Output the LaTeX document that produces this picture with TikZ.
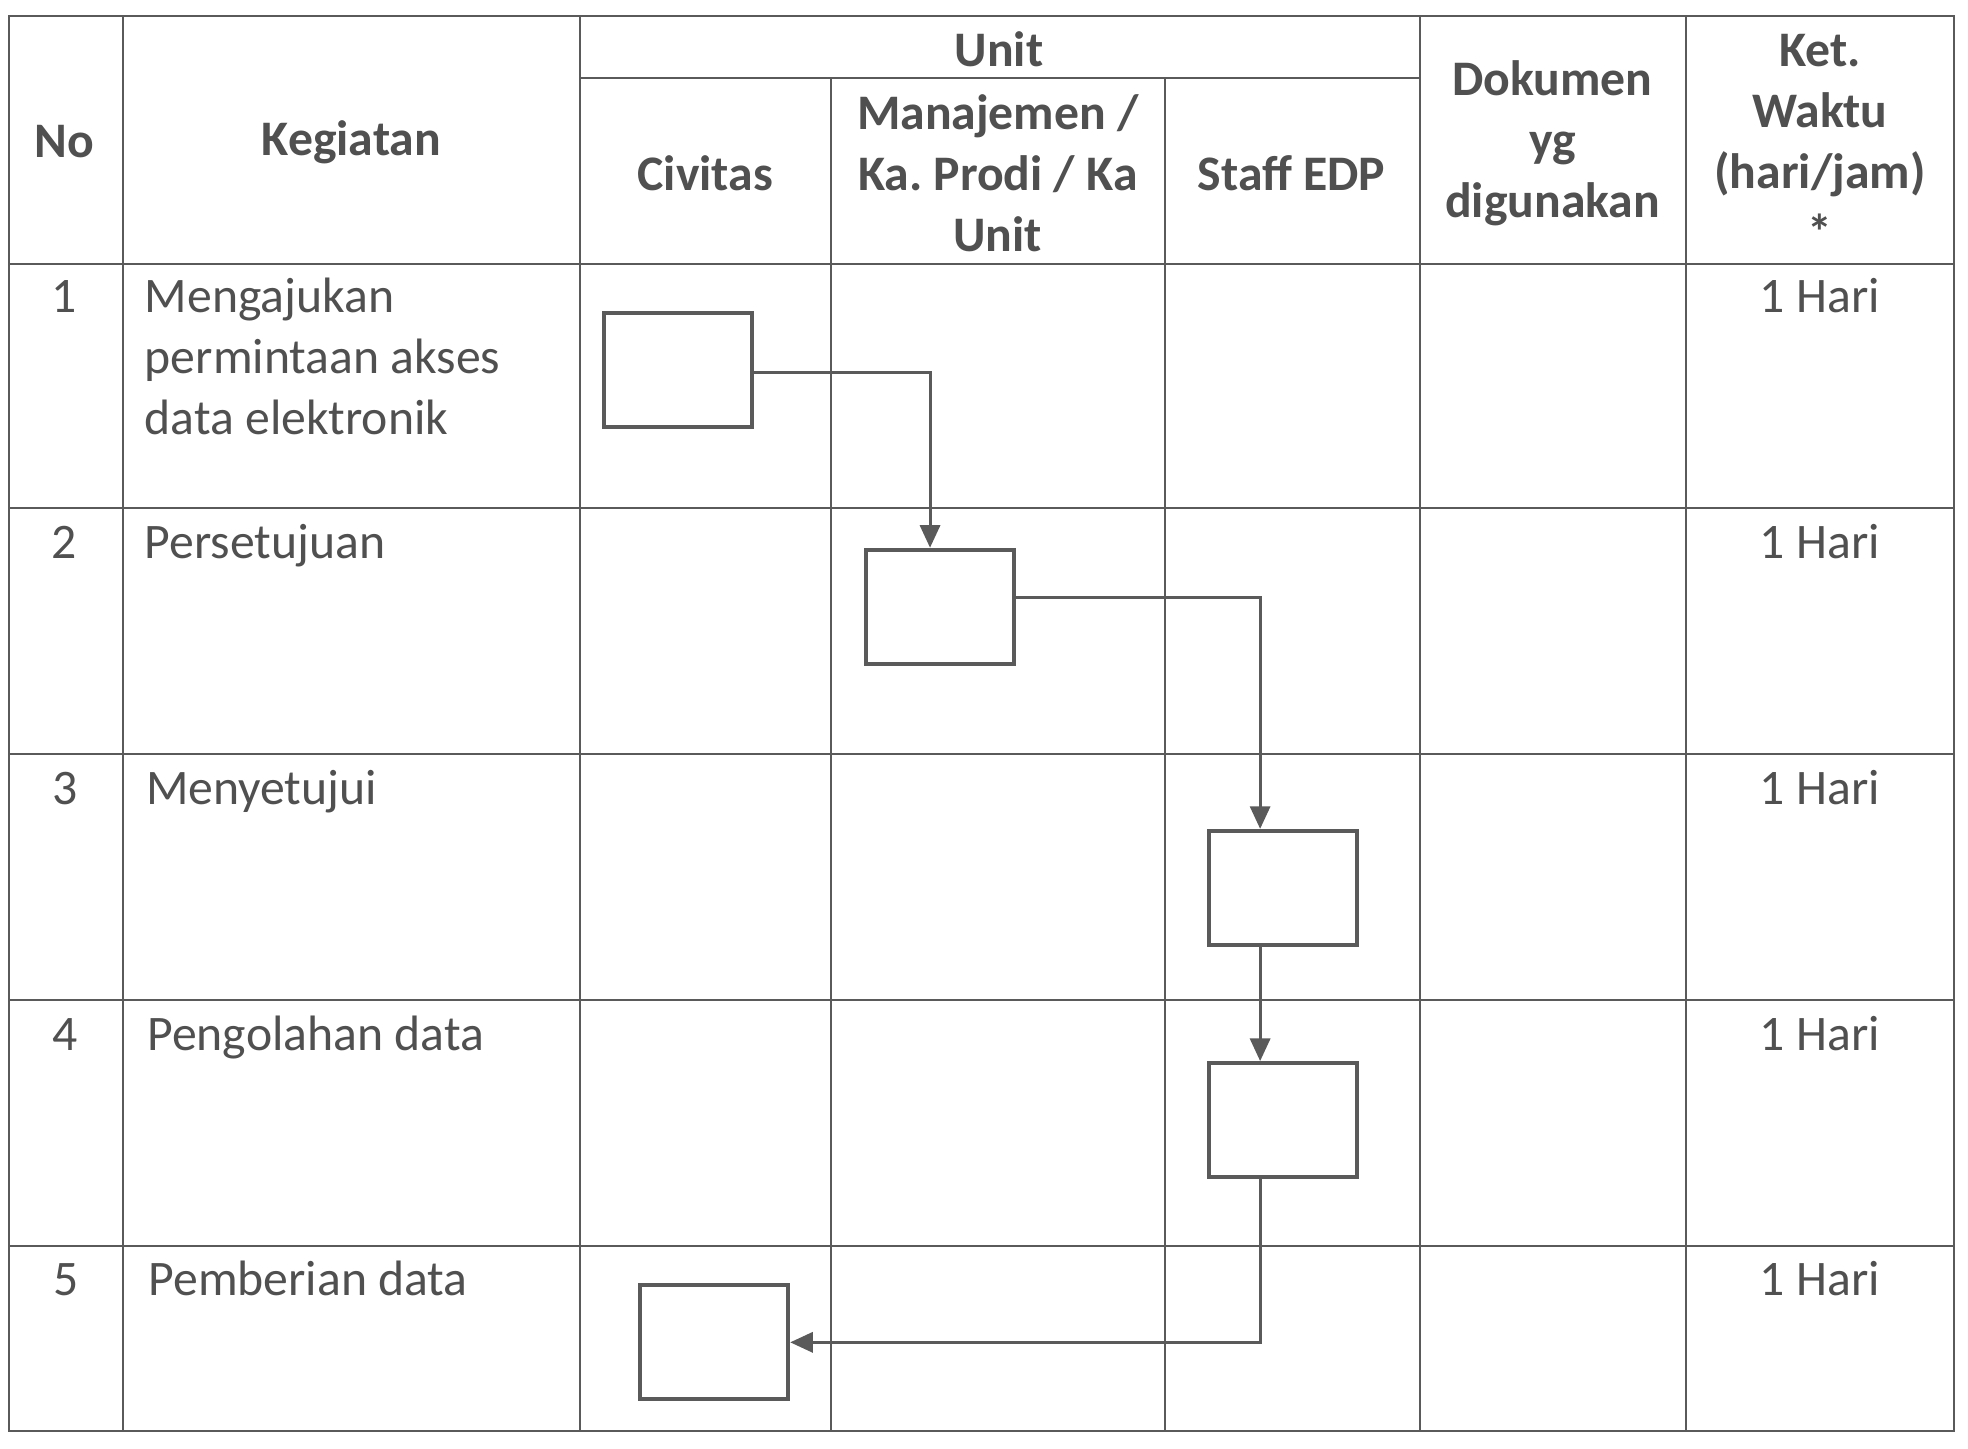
\documentclass[tikz,border=0pt]{standalone}
\usepackage{fontspec}
\setmainfont{Carlito}
\usetikzlibrary{arrows.meta}
\definecolor{ink}{HTML}{505050}
\definecolor{rule}{HTML}{5A5A5A}
\frenchspacing
\begin{document}
\begin{tikzpicture}[x=0.5pt,y=-0.5pt,
  grid/.style={draw=rule,line width=0.8pt},
  hdr/.style={font=\fontsize{19.8}{24.3}\selectfont\bfseries,text=ink,align=center,inner sep=0pt},
  txt/.style={font=\fontsize{19.8}{24.3}\selectfont,text=ink,inner sep=0pt,anchor=base west},
  num/.style={font=\fontsize{19.8}{24.3}\selectfont,text=ink,inner sep=0pt,anchor=base},
  actbox/.style={draw=rule,line width=1.6pt,minimum width=59pt,minimum height=45.5pt,inner sep=0pt},
  flow/.style={draw=rule,line width=1.2pt,-{Triangle[length=9pt,width=8pt]}}]
\path[use as bounding box,fill=white] (0,0) rectangle (1568,1154);
% table grid
\draw[grid] (7,13) rectangle (1557,1140);
\foreach \x in {98,462,1131,1343} \draw[grid] (\x,13) -- (\x,1140);
\foreach \x in {662,928} \draw[grid] (\x,62) -- (\x,1140);
\draw[grid] (462,62) -- (1131,62);
\foreach \y in {210,405,601,797,993} \draw[grid] (7,\y) -- (1557,\y);
% header
\node[hdr] (hno) at (51,113) {No};
\node[hdr] (hkeg) at (280,113) {Kegiatan};
\node[hdr] (hunit) at (796,39) {Unit};
\node[hdr] (hciv) at (562,138) {Civitas};
\node[hdr] (hman) at (795,138) {Manajemen /\\Ka. Prodi / Ka\\Unit};
\node[hdr] (hstaff) at (1029,138) {Staff EDP};
\node[hdr] (hdok) at (1237,114) {Dokumen\\yg\\digunakan};
\node[hdr] (hket) at (1450,113) {Ket.\\Waktu\\(hari/jam)\\*};
% rows
\node[num] (n1) at (51,249) {1};
\node[num] (n2) at (51,445) {2};
\node[num] (n3) at (52,641) {3};
\node[num] (n4) at (52,837) {4};
\node[num] (n5) at (53,1032) {5};
\node[txt] (k1a) at (115,249) {Mengajukan};
\node[txt] (k1b) at (115,297.5) {permintaan akses};
\node[txt] (k1c) at (115,346) {data elektronik};
\node[txt] (k2) at (115,445) {Persetujuan};
\node[txt] (k3) at (116,641) {Menyetujui};
\node[txt] (k4) at (117,837) {Pengolahan data};
\node[txt] (k5) at (118,1032) {Pemberian data};
\foreach \i/\y in {1/249,2/445,3/641,4/837,5/1032}
  \node[num] (w\i) at (1450,\y) {1 Hari};
% activity boxes
\node[actbox] (b1) at (540,294.5) {};
\node[actbox] (b2) at (749,483.5) {};
\node[actbox] (b3) at (1022,707.5) {};
\node[actbox] (b4) at (1022,892.5) {};
\node[actbox] (b5) at (569,1069.5) {};
% connectors
\draw[flow] ([yshift=-1pt]b1.east) -| ([xshift=-4pt]b2.north);
\draw[flow] ([yshift=3.75pt]b2.east) -| ([xshift=-9pt]b3.north);
\draw[flow] ([xshift=-9pt]b3.south) -- ([xshift=-9pt]b4.north);
\draw[flow] ([xshift=-9pt]b4.south) |- (b5.east);
\end{tikzpicture}
\end{document}
